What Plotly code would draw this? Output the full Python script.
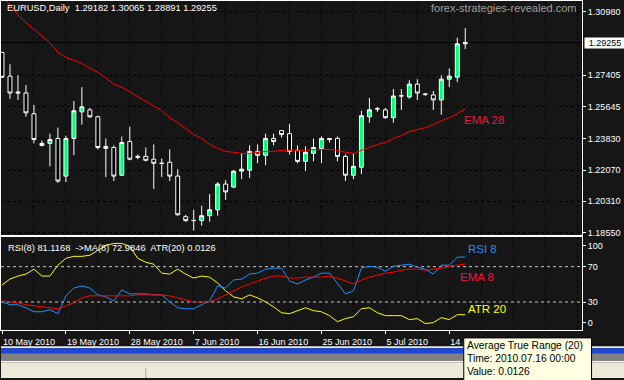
import plotly.graph_objects as go

# ---------------- data ----------------
bar_dates = [
    "2010.05.10", "2010.05.11", "2010.05.12", "2010.05.13", "2010.05.14", "2010.05.16",
    "2010.05.17", "2010.05.18", "2010.05.19", "2010.05.20", "2010.05.21", "2010.05.23",
    "2010.05.24", "2010.05.25", "2010.05.26", "2010.05.27", "2010.05.28", "2010.05.30",
    "2010.05.31", "2010.06.01", "2010.06.02", "2010.06.03", "2010.06.04", "2010.06.06",
    "2010.06.07", "2010.06.08", "2010.06.09", "2010.06.10", "2010.06.11", "2010.06.13",
    "2010.06.14", "2010.06.15", "2010.06.16", "2010.06.17", "2010.06.18", "2010.06.20",
    "2010.06.21", "2010.06.22", "2010.06.23", "2010.06.24", "2010.06.25", "2010.06.27",
    "2010.06.28", "2010.06.29", "2010.06.30", "2010.07.01", "2010.07.02", "2010.07.04",
    "2010.07.05", "2010.07.06", "2010.07.07", "2010.07.08", "2010.07.09", "2010.07.11",
    "2010.07.12", "2010.07.13", "2010.07.14", "2010.07.15", "2010.07.16",
]

opens = [1.2870, 1.2736, 1.2647, 1.2641, 1.2524, 1.2346, 1.2357, 1.2385, 1.2173, 1.2385,
         1.2535, 1.2546, 1.2507, 1.2340, 1.2334, 1.2178, 1.2368, 1.2284, 1.2284, 1.2268,
         1.2246, 1.2251, 1.2173, 1.1944, 1.1922, 1.1922, 1.1950, 1.1983, 1.2128, 1.2111,
         1.2201, 1.2206, 1.2312, 1.2290, 1.2385, 1.2429, 1.2412, 1.2318, 1.2256, 1.2301,
         1.2329, 1.2385, 1.2385, 1.2284, 1.2178, 1.2223, 1.2507, 1.2552, 1.2546, 1.2502,
         1.2624, 1.2619, 1.2691, 1.2635, 1.2630, 1.2602, 1.2719, 1.2730, 1.29182]
highs = [1.2872, 1.2803, 1.2741, 1.2686, 1.2574, 1.2373, 1.2412, 1.2446, 1.2401, 1.2596,
         1.2674, 1.2557, 1.2513, 1.2385, 1.2346, 1.2396, 1.2451, 1.2295, 1.2334, 1.2351,
         1.2273, 1.2323, 1.2212, 1.1955, 1.1983, 1.2006, 1.2072, 1.2139, 1.2150, 1.2206,
         1.2301, 1.2346, 1.2351, 1.2412, 1.2412, 1.2431, 1.2468, 1.2346, 1.2340, 1.2385,
         1.2396, 1.2387, 1.2396, 1.2295, 1.2301, 1.2541, 1.2613, 1.2563, 1.2557, 1.2663,
         1.2663, 1.2713, 1.2719, 1.2641, 1.2652, 1.2741, 1.2780, 1.2953, 1.30065]
lows = [1.2725, 1.2608, 1.2602, 1.2507, 1.2357, 1.2340, 1.2228, 1.2134, 1.2139, 1.2290,
        1.2463, 1.2502, 1.2323, 1.2167, 1.2145, 1.2173, 1.2262, 1.2268, 1.2256, 1.2100,
        1.2167, 1.2145, 1.1950, 1.1916, 1.1866, 1.1894, 1.1916, 1.1950, 1.2039, 1.2106,
        1.2156, 1.2162, 1.2245, 1.2234, 1.2346, 1.2390, 1.2295, 1.2245, 1.2201, 1.2256,
        1.2245, 1.2362, 1.2256, 1.2145, 1.2156, 1.2184, 1.2474, 1.2535, 1.2496, 1.2474,
        1.2546, 1.2608, 1.2602, 1.2624, 1.2546, 1.2518, 1.2674, 1.2702, 1.28891]
closes = [1.2730, 1.2641, 1.2641, 1.2529, 1.2379, 1.2357, 1.2379, 1.2145, 1.2385, 1.2541,
          1.2563, 1.2507, 1.2334, 1.2329, 1.2173, 1.2362, 1.2268, 1.2279, 1.2262, 1.2245,
          1.2244, 1.2173, 1.1955, 1.1922, 1.1923, 1.1950, 1.1983, 1.2128, 1.2084, 1.2201,
          1.2212, 1.2312, 1.2290, 1.2385, 1.2368, 1.2407, 1.2312, 1.2256, 1.2307, 1.2334,
          1.2385, 1.2379, 1.2284, 1.2178, 1.2228, 1.2513, 1.2546, 1.2551, 1.2502, 1.2624,
          1.2625, 1.2691, 1.2641, 1.2634, 1.2602, 1.2719, 1.2736, 1.2918, 1.29255]

ema28 = [1.3193, 1.3137, 1.3081, 1.3037, 1.2998, 1.2964, 1.2925, 1.2870, 1.2842, 1.2825,
         1.2808, 1.2780, 1.2758, 1.2725, 1.2691, 1.2674, 1.2647, 1.2619, 1.2596, 1.2568,
         1.2541, 1.2502, 1.2474, 1.2440, 1.2407, 1.2385, 1.2351, 1.2329, 1.2312, 1.2307,
         1.2301, 1.2301, 1.2307, 1.2312, 1.2312, 1.2318, 1.2318, 1.2318, 1.2318, 1.2323,
         1.2323, 1.2323, 1.2318, 1.2307, 1.2301, 1.2318, 1.2334, 1.2351, 1.2362, 1.2385,
         1.2401, 1.2424, 1.2435, 1.2446, 1.2463, 1.2485, 1.2502, 1.2524, 1.2552]

rsi8 = [30.2, 26.9, 26.9, 23.5, 19.0, 19.0, 21.3, 16.8, 37.0, 45.9,
        48.2, 45.9, 38.1, 35.8, 31.4, 43.7, 39.2, 39.2, 39.2, 38.1,
        38.1, 30.2, 23.5, 22.4, 22.4, 26.9, 31.4, 48.2, 45.9, 54.9,
        56.0, 61.6, 62.7, 67.2, 68.3, 68.3, 53.8, 50.4, 54.9, 58.2,
        62.7, 62.7, 50.4, 39.2, 42.6, 68.3, 70.5, 69.4, 64.9, 70.5,
        71.7, 72.8, 69.4, 67.2, 61.6, 71.7, 71.7, 80.6, 81.1168]
rsi_ma8 = [31.4, 30.2, 29.1, 26.9, 25.8, 24.6, 23.5, 22.4, 25.8, 29.1,
           34.7, 37.0, 37.0, 37.0, 37.0, 37.0, 37.0, 38.1, 38.1, 38.1,
           38.1, 37.0, 34.7, 32.5, 30.2, 30.2, 30.2, 33.6, 38.1, 42.6,
           47.0, 50.4, 53.8, 57.1, 59.4, 59.4, 57.1, 57.1, 58.2, 58.2,
           58.2, 59.4, 57.1, 53.8, 50.4, 54.9, 58.2, 60.5, 62.7, 63.8,
           66.1, 67.2, 67.2, 66.1, 67.2, 68.3, 70.5, 71.7, 72.9846]
# ATR(20) as drawn in the oscillator window (window scale 0..100)
atr20_window = [49.3, 56.0, 59.4, 61.6, 67.2, 59.4, 59.4, 71.7, 79.5, 81.7,
                81.7, 82.9, 88.5, 94.1, 96.3, 96.3, 92.9, 79.5, 75.0, 72.8,
                62.7, 61.6, 67.2, 61.6, 57.1, 59.4, 58.2, 51.5, 42.6, 35.8,
                33.6, 38.1, 34.7, 30.2, 24.6, 17.9, 16.8, 20.2, 23.5, 20.2,
                19.0, 14.6, 7.8, 11.2, 13.4, 22.4, 23.5, 17.9, 14.6, 14.6,
                14.6, 10.1, 11.2, 5.6, 6.7, 12.3, 10.1, 15.7, 15.7]

date_tick_labels = ["10 May 2010", "19 May 2010", "28 May 2010", "7 Jun 2010",
                    "16 Jun 2010", "25 Jun 2010", "5 Jul 2010", "14 Jul 2010"]
price_ticks = [1.18550, 1.20310, 1.22070, 1.23830, 1.25645, 1.27405, 1.30980]
osc_levels = [30, 70]
osc_tick_vals = [6.7, 30, 70, 94]
osc_tick_text = ["0", "30", "70", "100"]
atr_last = 0.0126

# ---------------- layout helpers ----------------
W, H = 624, 380


def fx(p):
    return p / W


def fy(p):
    return 1 - p / H


idx = list(range(len(bar_dates)))
tick_idx = idx[::8]

BG = "#161616"
GRID = "#000000"
FONT = "Liberation Sans, Arial, sans-serif"
small = dict(family=FONT, size=9, color="#ffffff")
info_font = dict(family=FONT, size=9.3, color="#ffffff")

fig = go.Figure()
fig.add_trace(go.Candlestick(
    x=idx, open=opens, high=highs, low=lows, close=closes,
    increasing=dict(line=dict(color="#ffffff", width=1), fillcolor="#00ff80"),
    decreasing=dict(line=dict(color="#ffffff", width=1), fillcolor="#000000"),
    whiskerwidth=0, hoverinfo="skip", showlegend=False, xaxis="x", yaxis="y"))
fig.add_trace(go.Scatter(x=idx, y=ema28, mode="lines", line=dict(color="#ff0000", width=1),
                         hoverinfo="skip", showlegend=False, xaxis="x", yaxis="y"))
fig.add_trace(go.Scatter(x=idx, y=atr20_window, mode="lines", line=dict(color="#ffff00", width=1),
                         hoverinfo="skip", showlegend=False, xaxis="x2", yaxis="y2"))
fig.add_trace(go.Scatter(x=idx, y=rsi8, mode="lines", line=dict(color="#1e90ff", width=1),
                         hoverinfo="skip", showlegend=False, xaxis="x2", yaxis="y2"))
fig.add_trace(go.Scatter(x=idx, y=rsi_ma8, mode="lines", line=dict(color="#ff0000", width=1),
                         hoverinfo="skip", showlegend=False, xaxis="x2", yaxis="y2"))

xcommon = dict(domain=[0, fx(582)], range=[-0.125, 72.625], tickmode="array", tickvals=tick_idx,
               showgrid=True, gridcolor=GRID, griddash="dot", gridwidth=1,
               minor=dict(tickmode="linear", tick0=0, dtick=4, showgrid=True, gridcolor=GRID,
                          griddash="dot", gridwidth=1, ticks=""),
               showline=True, linecolor="#ffffff", linewidth=1, mirror=True, zeroline=False,
               fixedrange=True)

fig.update_layout(
    width=W, height=H, margin=dict(l=0, r=0, t=0, b=0),
    paper_bgcolor=BG, plot_bgcolor=BG, showlegend=False,
    xaxis=dict(**xcommon, anchor="y", showticklabels=False, ticks="",
               rangeslider=dict(visible=False)),
    yaxis=dict(domain=[fy(236), 1], range=[1.18438, 1.31593], side="right", anchor="x",
               tickmode="array", tickvals=price_ticks, tickformat=".5f",
               ticks="outside", ticklen=3, tickcolor="#ffffff", tickfont=small,
               showgrid=True, gridcolor=GRID, griddash="dot", gridwidth=1,
               showline=True, linecolor="#ffffff", linewidth=1, mirror=True, zeroline=False,
               fixedrange=True),
    xaxis2=dict(**xcommon, anchor="y2", ticktext=date_tick_labels, ticks="outside", ticklen=3,
                tickcolor="#ffffff", tickfont=small, ticklabelposition="outside right",
                ticklabelstandoff=4),
    yaxis2=dict(domain=[fy(332), fy(238.5)], range=[-1.1, 103.6], side="right", anchor="x2",
                tickmode="array", tickvals=osc_tick_vals, ticktext=osc_tick_text,
                ticks="outside", ticklen=3, tickcolor="#ffffff", tickfont=small,
                showgrid=False, showline=True, linecolor="#ffffff", linewidth=1, mirror=True,
                zeroline=False, fixedrange=True),
)

shapes = []
# current price (bid) line
shapes.append(dict(type="line", xref="x domain", x0=0, x1=1, yref="y", y0=closes[-1], y1=closes[-1],
                   line=dict(color="#000000", width=1), layer="below"))
# oscillator levels
for lv in osc_levels:
    shapes.append(dict(type="line", xref="x2 domain", x0=0, x1=1, yref="y2", y0=lv, y1=lv,
                       line=dict(color="#c8c8c8", width=1, dash="dot"), layer="below"))
# window chrome at the bottom
chrome = [(349, 351, "#e8e8e8"), (351, 356, "#1c46d6"), (356, 363.5, "#808080"),
          (363.5, 365, "#f4f4f4"), (365, 381, "#ece9d8")]
for y0, y1, col in chrome:
    shapes.append(dict(type="rect", xref="paper", yref="paper", x0=0, x1=1, y0=fy(y1), y1=fy(y0),
                       fillcolor=col, line=dict(width=0), layer="above"))
shapes.append(dict(type="line", xref="paper", yref="paper", x0=fx(145), x1=fx(145), y0=fy(381), y1=fy(371),
                   line=dict(color="#aca899", width=1), layer="above"))
# tooltip box
shapes.append(dict(type="rect", xref="paper", yref="paper", x0=fx(463.5), x1=fx(591.5), y0=fy(390), y1=fy(340.5),
                   fillcolor="#ffffe1", line=dict(color="#000000", width=1), layer="above"))
fig.update_layout(shapes=shapes)

ann = []
ann.append(dict(xref="paper", yref="paper", x=fx(4), y=fy(7.5), xanchor="left", yanchor="middle",
                text="EURUSD,Daily  %.5f %.5f %.5f %.5f" % (opens[-1], highs[-1], lows[-1], closes[-1]),
                showarrow=False, font=info_font))
ann.append(dict(xref="paper", yref="paper", x=fx(429), y=fy(7), xanchor="left", yanchor="middle",
                text="forex-strategies-revealed.com", showarrow=False,
                font=dict(family=FONT, size=11, color="#a0a0a0")))
ann.append(dict(xref="paper", yref="y", x=fx(584), y=closes[-1], xanchor="left", yanchor="middle",
                text="%.5f" % closes[-1], showarrow=False, bgcolor="#ffffff", borderpad=0,
                width=40, height=10, align="center",
                font=dict(family=FONT, size=9, color="#000000")))
ann.append(dict(xref="paper", yref="paper", x=fx(5), y=fy(250), xanchor="left", yanchor="middle",
                text="RSI(8) %.4f  ->MA(8) %.4f  ATR(20) %.4f" % (rsi8[-1], rsi_ma8[-1], atr_last),
                showarrow=False, font=info_font))
labels = [("EMA 28", 462, 120, "#f0143c"), ("RSI 8", 466, 251, "#2a8cf5"),
          ("EMA 8", 458, 279, "#f0143c"), ("ATR 20", 466, 311, "#ffff00")]
for t, x, y, c in labels:
    ann.append(dict(xref="paper", yref="paper", x=fx(x), y=fy(y), xanchor="left", yanchor="middle",
                    text=t, showarrow=False, font=dict(family=FONT, size=11.5, color=c)))
tip = ["Average True Range (20)", "Time: %s 00:00" % bar_dates[-1], "Value: %.4f" % atr_last]
for k, t in enumerate(tip):
    ann.append(dict(xref="paper", yref="paper", x=fx(465), y=fy(348 + 13 * k), xanchor="left",
                    yanchor="middle", text=t, showarrow=False,
                    font=dict(family=FONT, size=10.3, color="#000000")))
fig.update_layout(annotations=ann)

fig.write_html("out.html", config={"displayModeBar": False},
               post_script="document.body.style.margin='0px';document.body.style.padding='0px';")
